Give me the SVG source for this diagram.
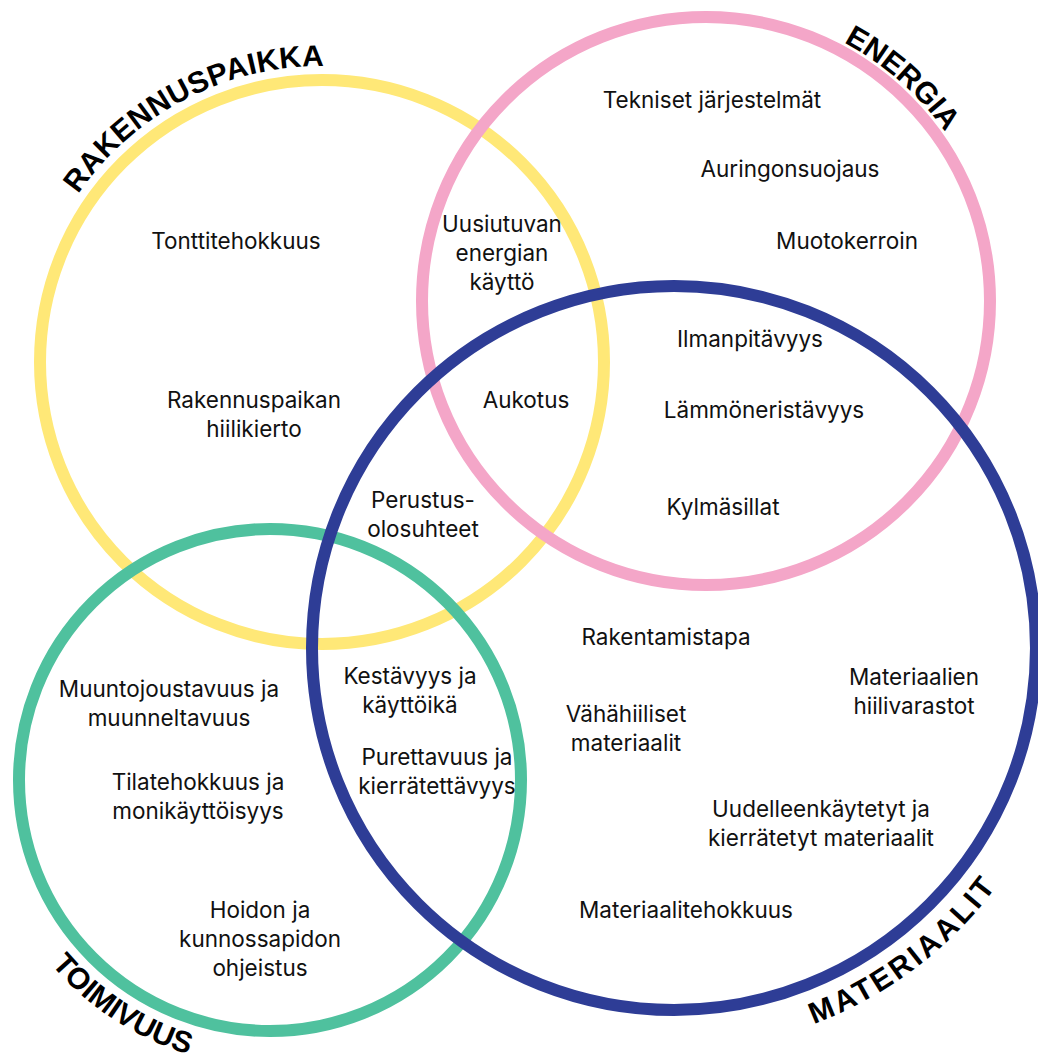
<svg xmlns="http://www.w3.org/2000/svg" width="1038" height="1056" viewBox="0 0 1038 1056">
<style>
.ring{fill:none;stroke-width:12}
.t{font-family:Inter,"Noto Sans",sans-serif;font-size:22.5px;fill:#111;text-anchor:middle}
.h{font-family:"Liberation Sans",Arial,sans-serif;font-weight:bold;font-size:30px;fill:#000}
</style>
<defs>
<path id="pY" d="M 39.7 273 A 296 296 0 0 1 411 79.7"/>
<path id="pP" d="M 687.6 8.6 A 293 293 0 0 1 998.4 282.6"/>
<path id="pB" d="M 618.9 1045.2 A 401 401 0 0 0 1071.2 703.1"/>
<path id="pG" d="M -10 838.5 A 286 286 0 0 0 328.5 1060"/>
</defs>
<rect width="1038" height="1056" fill="#fff"/>
<g id="rings">
<circle id="c-rakennuspaikka" class="ring" cx="322" cy="362" r="282" stroke="#FFE877"/>
<circle id="c-energia" class="ring" cx="706" cy="301" r="284" stroke="#F4A6C8"/>
<circle id="c-toimivuus" class="ring" cx="270" cy="780" r="251" stroke="#4FC19E"/>
<circle id="c-materiaalit" class="ring" cx="674" cy="648" r="362" stroke="#2E3D96"/>
</g>
<g id="headings">
<text class="h" font-size="32" letter-spacing="0.4"><textPath href="#pY" startOffset="50%" text-anchor="middle">RAKENNUSPAIKKA</textPath></text>
<text class="h" font-size="31.5"><textPath href="#pP" startOffset="50%" text-anchor="middle">ENERGIA</textPath></text>
<text class="h" font-size="34" letter-spacing="3"><textPath href="#pB" startOffset="50%" text-anchor="middle">MATERIAALIT</textPath></text>
<text class="h" font-size="31"><textPath href="#pG" startOffset="50%" text-anchor="middle">TOIMIVUUS</textPath></text>
</g>
<g id="items">
<g id="n-tekniset"><text class="t" x="712" y="108">Tekniset järjestelmät</text></g>
<g id="n-auringonsuojaus"><text class="t" x="790" y="177">Auringonsuojaus</text></g>
<g id="n-muotokerroin"><text class="t" x="847" y="249">Muotokerroin</text></g>
<g id="n-tonttitehokkuus"><text class="t" x="236" y="249">Tonttitehokkuus</text></g>
<g id="n-uusiutuvan"><text class="t" x="502" y="232">Uusiutuvan<tspan x="502" dy="29">energian</tspan><tspan x="502" dy="29">käyttö</tspan></text></g>
<g id="n-hiilikierto"><text class="t" x="254" y="408">Rakennuspaikan<tspan x="254" dy="29">hiilikierto</tspan></text></g>
<g id="n-aukotus"><text class="t" x="526" y="408">Aukotus</text></g>
<g id="n-ilmanpitavyys"><text class="t" x="750" y="347">Ilmanpitävyys</text></g>
<g id="n-lammoneristavyys"><text class="t" x="764" y="418">Lämmöneristävyys</text></g>
<g id="n-kylmasillat"><text class="t" x="723" y="515">Kylmäsillat</text></g>
<g id="n-perustus"><text class="t" x="423" y="508">Perustus-<tspan x="423" dy="29">olosuhteet</tspan></text></g>
<g id="n-rakentamistapa"><text class="t" x="666" y="645">Rakentamistapa</text></g>
<g id="n-hiilivarastot"><text class="t" x="914" y="685">Materiaalien<tspan x="914" dy="29">hiilivarastot</tspan></text></g>
<g id="n-vahahiiliset"><text class="t" x="626" y="722">Vähähiiliset<tspan x="626" dy="29">materiaalit</tspan></text></g>
<g id="n-uudelleen"><text class="t" x="821" y="817">Uudelleenkäytetyt ja<tspan x="821" dy="29">kierrätetyt materiaalit</tspan></text></g>
<g id="n-materiaalitehokkuus"><text class="t" x="686" y="918">Materiaalitehokkuus</text></g>
<g id="n-muuntojoustavuus"><text class="t" x="169" y="697">Muuntojoustavuus ja<tspan x="169" dy="29">muunneltavuus</tspan></text></g>
<g id="n-tilatehokkuus"><text class="t" x="198" y="790">Tilatehokkuus ja<tspan x="198" dy="29">monikäyttöisyys</tspan></text></g>
<g id="n-hoidon"><text class="t" x="260" y="918">Hoidon ja<tspan x="260" dy="29">kunnossapidon</tspan><tspan x="260" dy="29">ohjeistus</tspan></text></g>
<g id="n-kestavyys"><text class="t" x="410" y="684">Kestävyys ja<tspan x="410" dy="29">käyttöikä</tspan></text></g>
<g id="n-purettavuus"><text class="t" x="437" y="765">Purettavuus ja<tspan x="437" dy="29">kierrätettävyys</tspan></text></g>
</g>
</svg>
